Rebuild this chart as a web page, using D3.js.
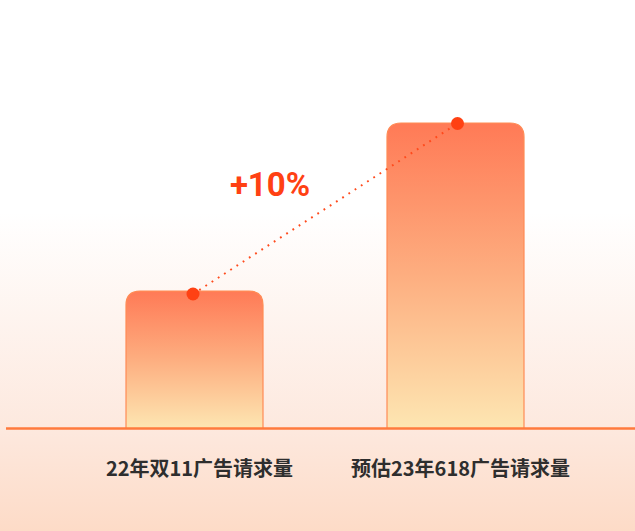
<!DOCTYPE html>
<html>
<head>
<meta charset="utf-8">
<script src="https://cdn.jsdelivr.net/npm/d3@7"></script>
<style>
  html, body { margin: 0; padding: 0; background: #fff; }
  svg { display: block; }
</style>
</head>
<body>
<div id="chart"></div>
<script>
// Dados do gráfico (alturas relativas das barras)
const CATEGORIES = ['22年双11广告请求量', '预估23年618广告请求量']
const VALUES = [45, 100]
const GROWTH_LABEL = '+10%'

const WIDTH = 635
const HEIGHT = 531
const BASELINE = 428.5
const TOP = 123
const BAR_WIDTH = 137
const RADIUS = 14

const svg = d3.select('#chart')
  .append('svg')
  .attr('width', WIDTH)
  .attr('height', HEIGHT)

const defs = svg.append('defs')

// Fundo: branco em cima, pêssego em baixo
const bg = defs.append('linearGradient')
  .attr('id', 'bg')
  .attr('x1', 0).attr('y1', 0).attr('x2', 0).attr('y2', 1)
bg.append('stop').attr('offset', '0%').attr('stop-color', '#ffffff')
bg.append('stop').attr('offset', '40%').attr('stop-color', '#ffffff')
bg.append('stop').attr('offset', '80%').attr('stop-color', '#fde9df')
bg.append('stop').attr('offset', '100%').attr('stop-color', '#fddbc7')

const barGrad = defs.append('linearGradient')
  .attr('id', 'bar')
  .attr('x1', 0).attr('y1', 0).attr('x2', 0).attr('y2', 1)
barGrad.append('stop').attr('offset', '0%').attr('stop-color', '#ff7a56')
barGrad.append('stop').attr('offset', '50%').attr('stop-color', '#fdae80')
barGrad.append('stop').attr('offset', '100%').attr('stop-color', '#fde6b2')

svg.append('rect')
  .attr('width', WIDTH)
  .attr('height', HEIGHT)
  .attr('fill', 'url(#bg)')

const x = d3.scalePoint() // centro das barras
  .domain(CATEGORIES)
  .range([194.5, 455.5])

const y = d3.scaleLinear()
  .domain([0, 100])
  .range([BASELINE, TOP])

// Barra com cantos superiores arredondados
function barPath (d, i) {
  const x0 = x(CATEGORIES[i]) - BAR_WIDTH / 2
  const x1 = x0 + BAR_WIDTH
  const yt = y(d)
  const r = RADIUS
  return `M${x0},${BASELINE} L${x0},${yt + r} Q${x0},${yt} ${x0 + r},${yt} ` +
    `L${x1 - r},${yt} Q${x1},${yt} ${x1},${yt + r} L${x1},${BASELINE} Z`
}

svg.append('g')
  .selectAll('path')
  .data(VALUES)
  .join('path')
  .attr('d', barPath)
  .attr('fill', 'url(#bar)')
  .attr('stroke', '#ff8b55')
  .attr('stroke-width', 1.2)

// Linha de base
svg.append('line')
  .attr('x1', 6)
  .attr('x2', WIDTH)
  .attr('y1', BASELINE)
  .attr('y2', BASELINE)
  .attr('stroke', '#ff7a3d')
  .attr('stroke-width', 2.6)

// Linha pontilhada entre os topos
const pts = VALUES.map((v, i) => [x(CATEGORIES[i]) + (i === 0 ? -1.5 : 2), y(v) + (i === 0 ? 3 : 0.5)])

svg.append('path')
  .attr('d', d3.line()(pts))
  .attr('fill', 'none')
  .attr('stroke', '#ff4a1c')
  .attr('stroke-width', 2)
  .attr('stroke-dasharray', '1.8 5.6')

svg.append('g')
  .selectAll('circle')
  .data(pts)
  .join('circle')
  .attr('cx', d => d[0])
  .attr('cy', d => d[1])
  .attr('r', 6.5)
  .attr('fill', '#ff4113')

svg.append('text')
  .attr('x', 270)
  .attr('y', 196)
  .attr('text-anchor', 'middle')
  .style('font-family', 'Roboto, "Noto Sans", sans-serif')
  .style('font-weight', 'bold')
  .style('font-size', '33px')
  .style('fill', '#ff4113')
  .text(GROWTH_LABEL)

// Rótulos das categorias
svg.append('g')
  .selectAll('text')
  .data(CATEGORIES)
  .join('text')
  .attr('x', d => x(d) + 5)
  .attr('y', 467)
  .attr('text-anchor', 'middle')
  .attr('dominant-baseline', 'central')
  .style('font-family', '"Noto Sans CJK SC", sans-serif')
  .style('font-weight', 'bold')
  .style('font-size', '20px')
  .style('fill', '#2e2e2e')
  .text(d => d)
</script>
</body>
</html>
